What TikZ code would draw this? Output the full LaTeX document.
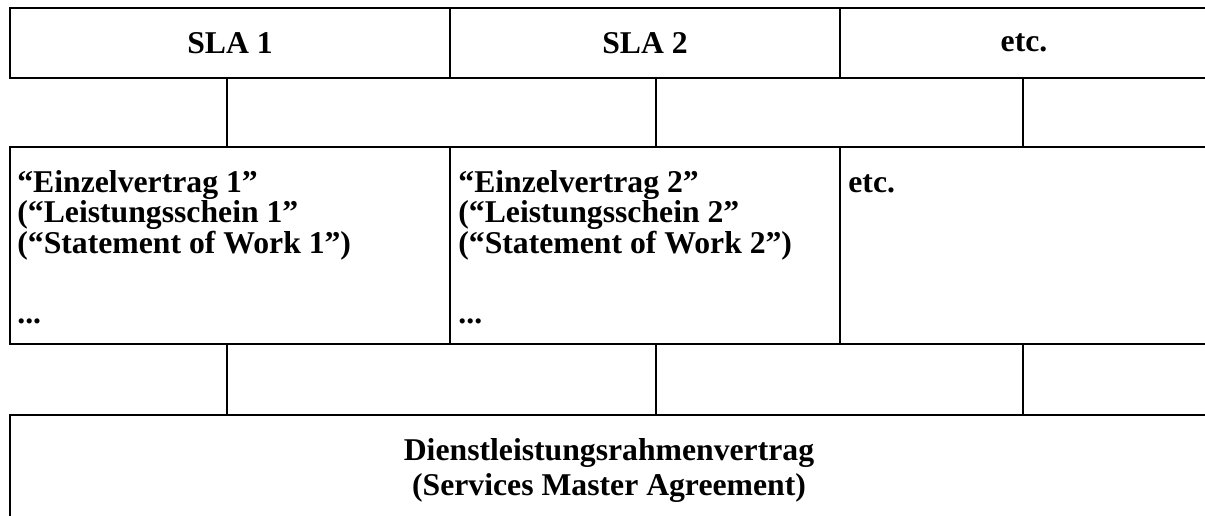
\documentclass[tikz,border=0pt]{standalone}
\usepackage{fontspec}
\setmainfont{Liberation Serif}
\usetikzlibrary{positioning, calc}

\begin{document}
\begin{tikzpicture}[x=1pt, y=-1pt]
\tikzset{Box/.style={shape=rectangle, draw, line width=1.6pt, inner sep=0pt, minimum height=70pt, font=\bfseries\fontsize{31.7}{28.4}\selectfont}}
\tikzset{Txt/.style={inner sep=0pt, align=left, font=\bfseries\fontsize{31.7}{28.4}\selectfont}}
\tikzset{Link/.style={line width=1.6pt}}

\useasboundingbox (0,0) rectangle (1205,516);

% nodes
\node[Box, minimum width=440pt] (sla1) at (230, 43) {SLA 1};
\node[Box, minimum width=390pt] (sla2) at (645, 43) {SLA 2};
\node[Box, minimum width=368pt] (slaetc) at (1024, 43) {etc.};

\node[Box, minimum width=440pt, minimum height=197pt] (ev1) at (230, 245.5) {};
\node[Box, minimum width=390pt, minimum height=197pt] (ev2) at (645, 245.5) {};
\node[Box, minimum width=368pt, minimum height=197pt] (evetc) at (1024, 245.5) {};
\node[Txt, anchor=north west] (ev1txt) at ([xshift=8pt, yshift=-24.5pt]ev1.north west) {%
“Einzelvertrag 1”\\
(“Leistungsschein 1”\\
(“Statement of Work 1”)\\[41.6pt]
...};
\node[Txt, anchor=north west] (ev2txt) at ([xshift=9pt, yshift=-24.5pt]ev2.north west) {%
“Einzelvertrag 2”\\
(“Leistungsschein 2”\\
(“Statement of Work 2”)\\[41.6pt]
...};
\node[Txt, anchor=base west] (evetctxt) at ([xshift=9pt, yshift=-46pt]evetc.north west) {etc.};

\node[Box, minimum width=1198pt, minimum height=115pt] (master) at (609, 472.5) {};
\node[Txt, align=center, anchor=north, font=\bfseries\fontsize{31.7}{35.3}\selectfont] (mastertxt) at ([yshift=-24pt]master.north) {%
Dienstleistungsrahmenvertrag\\
(Services Master Agreement)};

% links
\draw[Link] ([xshift=-3pt]sla1.south) -- ([xshift=-3pt]ev1.north);
\draw[Link] ([xshift=11pt]sla2.south) -- ([xshift=11pt]ev2.north);
\draw[Link] ([xshift=-1pt]slaetc.south) -- ([xshift=-1pt]evetc.north);
\draw[Link] ([xshift=-3pt]ev1.south) -- ([xshift=-3pt]ev1.south |- master.north);
\draw[Link] ([xshift=11pt]ev2.south) -- ([xshift=11pt]ev2.south |- master.north);
\draw[Link] ([xshift=-1pt]evetc.south) -- ([xshift=-1pt]evetc.south |- master.north);
\end{tikzpicture}
\end{document}
